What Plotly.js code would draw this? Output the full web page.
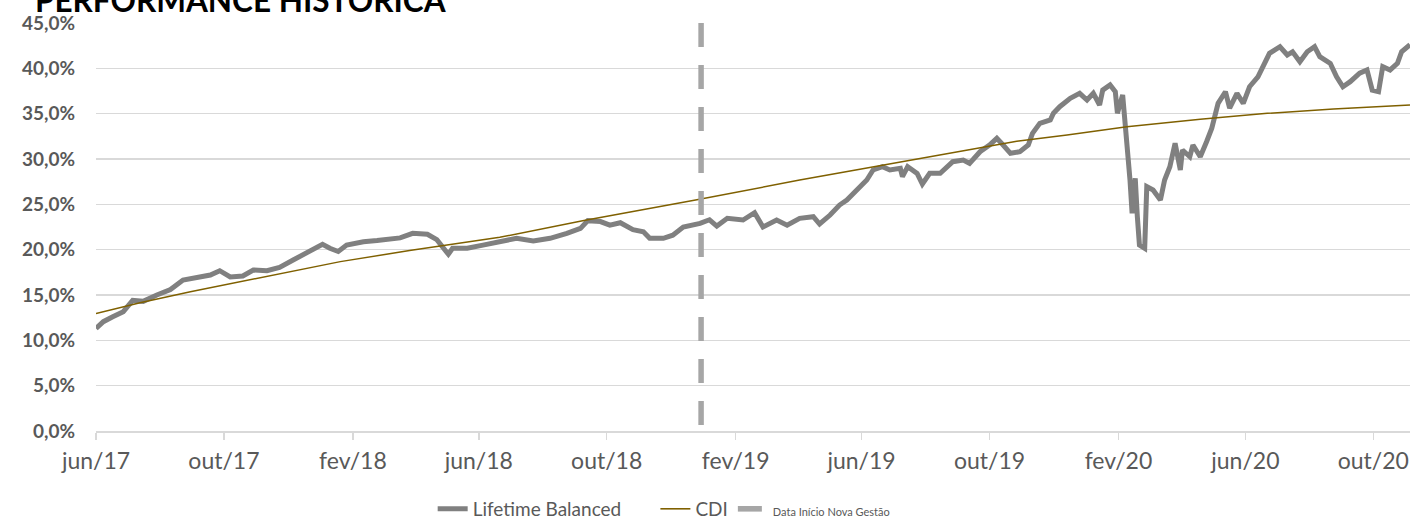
<!DOCTYPE html>
<html>
<head>
<meta charset="utf-8">
<script src="https://cdn.plot.ly/plotly-3.0.1.min.js"></script>
<style>
html,body{margin:0;padding:0;background:#fff;}
#chart{width:1415px;height:522px;}
</style>
</head>
<body>
<div id="chart"></div>
<script>
// ---- Data ----
const lifetimeDates = [
 '2017-06-01','2017-06-08','2017-06-17','2017-06-27','2017-07-06','2017-07-16','2017-07-29','2017-08-11','2017-08-23','2017-09-05',
 '2017-09-18','2017-09-27','2017-10-07','2017-10-19','2017-10-29','2017-11-11','2017-11-23','2017-12-06','2017-12-19','2018-01-03',
 '2018-01-10','2018-01-18','2018-01-26','2018-02-11','2018-02-24','2018-03-08','2018-03-18','2018-03-30','2018-04-13','2018-04-22',
 '2018-04-28','2018-05-03','2018-05-07','2018-05-21','2018-06-05','2018-06-21','2018-07-07','2018-07-23','2018-08-08','2018-08-24',
 '2018-09-06','2018-09-13','2018-09-25','2018-10-04','2018-10-14','2018-10-26','2018-11-05','2018-11-11','2018-11-24','2018-12-03',
 '2018-12-13','2018-12-29','2019-01-07','2019-01-14','2019-01-24','2019-02-08','2019-02-19','2019-02-27','2019-03-12','2019-03-22',
 '2019-04-03','2019-04-16','2019-04-22','2019-05-02','2019-05-11','2019-05-18','2019-05-28','2019-06-06','2019-06-12','2019-06-21',
 '2019-06-28','2019-07-08','2019-07-10','2019-07-15','2019-07-24','2019-07-29','2019-08-05','2019-08-15','2019-08-27','2019-09-06',
 '2019-09-12','2019-09-22','2019-10-01','2019-10-08','2019-10-14','2019-10-21','2019-10-30','2019-11-07','2019-11-11','2019-11-18',
 '2019-11-28','2019-12-01','2019-12-07','2019-12-17','2019-12-26','2020-01-02','2020-01-08','2020-01-14','2020-01-17','2020-01-24',
 '2020-01-29','2020-01-31','2020-02-05','2020-02-07','2020-02-09','2020-02-12','2020-02-14','2020-02-17','2020-02-19','2020-02-21',
 '2020-02-26','2020-02-28','2020-03-05','2020-03-12','2020-03-16','2020-03-21','2020-03-26','2020-03-31','2020-04-02','2020-04-09',
 '2020-04-12','2020-04-19','2020-04-25','2020-04-30','2020-05-06','2020-05-13','2020-05-17','2020-05-24','2020-05-30','2020-06-05',
 '2020-06-13','2020-06-18','2020-06-24','2020-07-04','2020-07-11','2020-07-16','2020-07-23','2020-07-30','2020-08-06','2020-08-11',
 '2020-08-21','2020-08-27','2020-09-02','2020-09-09','2020-09-18','2020-09-25','2020-09-30','2020-10-06','2020-10-10','2020-10-17',
 '2020-10-24','2020-10-28','2020-11-02','2020-11-05'
];
const lifetimeValues = [
 11.3,12.06,12.6,13.16,14.4,14.3,15.0,15.6,16.65,16.95,
 17.2,17.68,17.0,17.1,17.76,17.68,18.05,18.86,19.6,20.6,
 20.15,19.8,20.5,20.88,21.0,21.14,21.3,21.8,21.7,21.1,
 20.3,19.5,20.15,20.15,20.5,20.9,21.25,20.95,21.25,21.8,
 22.35,23.2,23.1,22.7,22.97,22.2,21.98,21.25,21.25,21.6,
 22.5,22.9,23.3,22.6,23.46,23.27,24.08,22.5,23.27,22.7,
 23.46,23.64,22.83,23.82,24.92,25.48,26.58,27.68,28.79,29.15,
 28.79,28.97,28.05,29.15,28.42,27.24,28.42,28.42,29.7,29.88,
 29.52,30.8,31.54,32.28,31.54,30.63,30.8,31.54,32.83,33.94,
 34.3,35.04,35.77,36.7,37.24,36.5,37.24,35.95,37.6,38.16,
 37.42,35.04,37.06,34.66,30.99,27.68,24.0,27.87,23.64,20.5,
 20.15,26.95,26.58,25.48,27.68,29.15,31.73,28.79,30.99,30.25,
 31.54,30.25,31.9,33.4,36.14,37.42,35.6,37.24,36.14,37.97,
 39.07,40.37,41.66,42.38,41.47,41.83,40.73,41.83,42.38,41.28,
 40.55,39.07,37.97,38.53,39.46,39.82,37.6,37.42,40.18,39.82,
 40.55,41.83,42.38,42.6
];
const cdiDates = [
 '2017-06-01','2017-07-13','2017-08-30','2017-10-16','2017-12-03','2018-01-20','2018-03-27','2018-06-21','2018-09-08','2018-12-26',
 '2019-04-03','2019-06-12','2019-08-08','2019-10-27','2019-12-14','2020-02-09','2020-04-19','2020-06-22','2020-08-24','2020-11-05'
];
const cdiValues = [
 12.95,14.15,15.37,16.47,17.6,18.68,19.9,21.36,23.2,25.5,
 27.68,29.15,30.33,31.95,32.65,33.56,34.38,35.04,35.51,35.95
];
const newMgmtDates = ['2018-12-30','2018-12-30'];
const newMgmtValues = [45, 0];

const seriesNames = ['Lifetime Balanced', 'CDI', 'Data Início Nova Gestão'];
const tickDates = ['2017-06-01','2017-10-01','2018-02-01','2018-06-01','2018-10-01','2019-02-01',
                   '2019-06-01','2019-10-01','2020-02-01','2020-06-01','2020-10-01'];
const tickLabels = ['jun/17','out/17','fev/18','jun/18','out/18','fev/19',
                    'jun/19','out/19','fev/20','jun/20','out/20'];
const xRange = ['2017-06-01','2020-11-05'];
const yRange = [0, 45];
const chartTitle = 'PERFORMANCE HISTORICA';

// ---- Chart ----
const FONT = 'Lato, "Open Sans", sans-serif';
const PAD = '\u00a0'.repeat(6);
const traces = [
  {x: lifetimeDates, y: lifetimeValues, type: 'scatter', mode: 'lines', name: seriesNames[0] + PAD,
   line: {color: '#808080', width: 5}},
  {x: cdiDates, y: cdiValues, type: 'scatter', mode: 'lines', name: seriesNames[1],
   line: {color: '#7f6000', width: 1.5}},
  {x: newMgmtDates, y: newMgmtValues, type: 'scatter', mode: 'lines',
   name: '<span style="font-size:11px">' + seriesNames[2] + '</span>',
   line: {color: '#a6a6a6', width: 5.5, dash: '24px,18px'}}
];
const layout = {
  width: 1415, height: 522,
  margin: {l: 96, r: 5, t: 23, b: 91},
  paper_bgcolor: '#ffffff', plot_bgcolor: '#ffffff',
  separators: ',.',
  font: {family: FONT, color: '#595959'},
  title: {text: '<b>' + chartTitle + '</b>', xref: 'container', yref: 'container',
          x: 35/1415, xanchor: 'left', y: 1 - 0.5/522, yanchor: 'middle',
          font: {family: FONT, size: 31.5, color: '#000000'}},
  xaxis: {type: 'date', range: xRange, tickmode: 'array', tickvals: tickDates, ticktext: tickLabels,
          showgrid: false, showline: true, linecolor: '#d9d9d9', linewidth: 1.5,
          ticks: 'outside', ticklen: 7, tickcolor: '#d9d9d9', tickwidth: 1.5, ticklabelstandoff: 2,
          tickfont: {family: FONT, size: 23, color: '#595959'}, zeroline: false, fixedrange: true,
          automargin: false},
  yaxis: {range: yRange, dtick: 5, tick0: 0, tickformat: '.1f', ticksuffix: '%',
          showgrid: true, gridcolor: '#d9d9d9', gridwidth: 1.5, zeroline: false, showline: false,
          ticks: '', ticklabelstandoff: 20, automargin: false,
          tickfont: {family: FONT, size: 19, color: '#595959', weight: 'bold'}, fixedrange: true},
  showlegend: true,
  legend: {orientation: 'h', xref: 'paper', x: 0.4324, xanchor: 'center',
           yref: 'container', y: 13/522, yanchor: 'middle',
           font: {family: FONT, size: 19, color: '#595959'}, bgcolor: 'rgba(0,0,0,0)'},
  hovermode: false
};
Plotly.newPlot('chart', traces, layout, {displayModeBar: false, staticPlot: true});
</script>
</body>
</html>
